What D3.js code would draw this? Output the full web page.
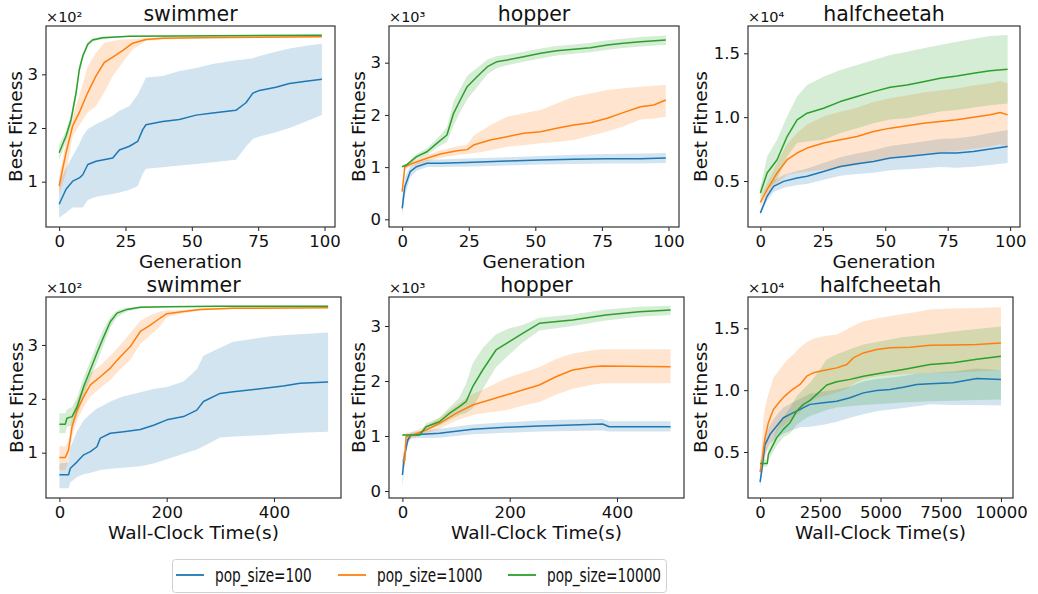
<!DOCTYPE html>
<html>
<head>
<meta charset="utf-8">
<script src="https://cdn.jsdelivr.net/npm/d3@7"></script>
<style>
  body { margin: 0; background: #fff; }
  svg { font-family: 'DejaVu Sans', sans-serif; }
</style>
</head>
<body>
<div id="chart"></div>
<script>
// rows are [x, mean, lower, upper]

// swimmer, x = generation
var swimGenBlue = [[0,58,33,98],[2.6,86,42,125],[5.1,101,52,148],[7.6,107,52,170],[8.9,113,52,185],[10.8,132,66,198],[13.9,138,72,207],[20.2,144,77,223],[22.7,159,80,232],[26.5,166,85,241],[29.6,175,92,262],[31.5,197,115,281],[32.7,206,124,294],[39,212,127,297],[45.3,216,130,306],[51.6,224,133,312],[57.9,228,136,319],[66.6,233,141,326],[70.4,247,165,328],[73,265,180,330],[75.5,270,184,334],[81.7,276,192,342],[86.8,283,200,348],[93,287,212,353],[99,291,224,357]]
var swimGenOrange = [[0,92,75,108],[2.6,154,117,176],[5.1,204,185,223],[7.6,229,205,260],[10.8,266,229,315],[13.9,297,241,340],[17,322,266,359],[20.2,332,297,362],[23.9,344,322,365],[27.7,358,346,366],[32.7,365,362,368],[39,367,365,369],[53,368,367,370],[99,370,369,371]]
var swimGenGreen = [[0,154,140,168],[2.6,185,175,195],[4.5,216,206,226],[6.4,266,256,276],[7.6,309,300,318],[8.9,334,327,340],[10.8,356,352,360],[12.6,364,361,367],[16.4,368,366,370],[26.5,371,370,372],[60,372,371,373],[99,373,372,374]]

// hopper, x = generation
var hopGenBlue = [[0,210,50,420],[1,625,450,800],[3,912,800,1010],[5.4,1008,930,1080],[9.3,1073,1000,1140],[14.3,1073,1000,1145],[26.8,1092,1010,1170],[39.4,1117,1030,1190],[52,1136,1050,1215],[64.4,1149,1060,1235],[77,1162,1070,1250],[89.5,1162,1070,1260],[99,1175,1080,1270]]
var hopGenOrange = [[0,530,480,580],[1,1008,970,1040],[4,1073,1020,1120],[9.3,1169,1110,1230],[14.3,1251,1180,1320],[20.6,1315,1230,1400],[24.4,1335,1250,1430],[26.8,1423,1264,1600],[33,1519,1320,1800],[39.4,1583,1391,1966],[45.6,1647,1420,2030],[52,1678,1456,2094],[58,1744,1480,2220],[64.4,1807,1519,2349],[70.7,1851,1600,2410],[77,1935,1680,2477],[83,2043,1780,2510],[89.5,2157,1911,2541],[94.5,2190,1930,2560],[99,2286,1966,2573]]
var hopGenGreen = [[0,1008,990,1030],[1.6,1040,1010,1070],[5.4,1200,1150,1250],[9.3,1295,1230,1360],[13,1456,1370,1540],[16.8,1615,1480,1760],[19.3,2030,1800,2260],[21.8,2286,2050,2500],[24.4,2540,2300,2750],[28.1,2732,2530,2900],[32,2924,2780,3060],[35.6,3020,2900,3130],[39.4,3052,2950,3150],[45.6,3115,3020,3210],[52,3180,3080,3270],[58,3230,3140,3320],[64.4,3257,3170,3350],[70.7,3288,3200,3380],[77,3340,3250,3430],[83,3372,3280,3460],[89.5,3403,3310,3490],[99,3435,3340,3520]]

// halfcheetah, x = generation
var cheGenBlue = [[0,2500,2300,2700],[2.7,3800,3450,4150],[5.3,4580,4130,5030],[9.3,4970,4470,5470],[14.7,5240,4690,5790],[18.7,5370,4770,5970],[25.3,5750,5100,6400],[32,6140,5420,6860],[38.7,6350,5550,7150],[45.3,6530,5650,7410],[52,6800,5850,7750],[58.7,6920,5920,7920],[65.3,7050,6000,8100],[72,7190,6090,8290],[78.7,7190,6040,8340],[85.3,7310,6110,8510],[92,7500,6250,8750],[99,7700,6400,9000]]
var cheGenOrange = [[0,3330,3030,3630],[2.7,4320,3820,4820],[6.7,5630,4830,6430],[10.7,6670,5470,7870],[14.7,7190,5630,8750],[18.7,7580,5730,9430],[25.3,7970,5890,10050],[32,8230,6030,10430],[38.7,8480,6230,10730],[45.3,8880,6580,11180],[52,9140,6790,11490],[58.7,9320,6950,11690],[65.3,9530,7130,11930],[72,9660,7230,12090],[78.7,9790,7340,12240],[85.3,10000,7530,12470],[92,10180,7700,12660],[96,10360,7880,12840],[99,10180,7700,12660]]
var cheGenGreen = [[0,4060,3620,4500],[2.7,5630,4340,6920],[6.7,6670,5110,8230],[10.7,8480,6910,10050],[14.7,9790,7970,11610],[18.7,10310,8100,12520],[25.3,10700,8230,13170],[32,11220,8750,13690],[38.7,11610,9140,14080],[45.3,12000,9520,14480],[52,12340,9810,14870],[58.7,12520,9910,15130],[65.3,12780,10170,15390],[72,13050,10450,15650],[78.7,13230,10560,15900],[85.3,13440,10750,16130],[92,13640,10930,16350],[99,13750,11070,16430]]

// swimmer, x = wall-clock seconds
var swimTimeBlue = [[0,59,34,80],[17,59,34,82],[20.5,71,45,110],[33,83,55,140],[45.3,96,60,160],[57.7,102,63,172],[70,111,66,182],[76.3,127,68,185],[94.9,136,70,195],[119.8,139,72,205],[150.8,143,75,212],[175.7,151,80,218],[200.4,161,88,222],[231.4,167,98,232],[256.2,179,106,255],[268.6,195,112,280],[299.6,210,128,295],[324.4,213,130,306],[386.4,220,133,315],[417.4,224,135,318],[448.5,229,137,320],[501,231,139,323]]
var swimTimeOrange = [[0,91,68,112],[11,91,68,112],[17,105,85,122],[23.6,148,130,168],[33,179,160,198],[45.3,204,185,225],[57.7,226,205,248],[76.3,241,220,262],[94.9,257,235,280],[113.6,278,255,300],[132.2,297,272,322],[150.8,325,302,345],[169.5,337,318,355],[188,350,335,362],[200.4,358,352,364],[231.4,362,359,365],[262.4,366,364,368],[324.4,368,367,370],[501,369,368,371]]
var swimTimeGreen = [[0,153,136,173],[11,153,136,173],[14,164,148,180],[23.6,167,150,185],[33,185,168,202],[45.3,223,205,240],[57.7,254,238,270],[70,285,268,302],[82.5,315,300,330],[94.9,343,332,352],[107.4,359,352,364],[126,366,362,369],[150.8,370,368,372],[200.4,371,370,372],[300,372,371,373],[501,372,371,373]]

// hopper, x = wall-clock seconds
var hopTimeBlue = [[0,291,60,520],[3.7,624,450,800],[10,927,850,1000],[16.1,1018,960,1070],[69,1049,970,1130],[131,1122,1030,1210],[193.2,1158,1060,1250],[255.3,1182,1080,1280],[317.4,1200,1090,1300],[373.2,1218,1100,1310],[385.6,1169,1080,1270],[500,1169,1080,1270]]
var hopTimeOrange = [[0,551,450,700],[4.4,551,450,700],[6.8,988,900,1050],[19.4,1018,960,1080],[44.2,1109,1040,1180],[69,1230,1130,1330],[100,1412,1280,1560],[131,1563,1380,1760],[162,1654,1430,1900],[193.2,1745,1470,2050],[224.2,1836,1550,2150],[255.3,1927,1620,2250],[286.3,2078,1750,2400],[317.4,2200,1860,2500],[354.6,2260,1930,2560],[373.2,2272,1958,2576],[500,2260,1958,2576]]
var hopTimeGreen = [[0,1018,1000,1040],[31.8,1018,1000,1040],[44.2,1169,1110,1230],[69,1260,1190,1330],[87.6,1412,1290,1520],[106.2,1533,1380,1700],[118.6,1624,1420,1950],[131,1896,1500,2320],[149.7,2200,1850,2600],[174.5,2564,2250,2850],[199.4,2715,2480,2960],[224.2,2867,2700,3020],[255.3,3049,2920,3150],[317.4,3109,3000,3210],[379,3200,3100,3300],[441.5,3260,3170,3350],[500,3291,3200,3370]]

// halfcheetah, x = wall-clock seconds
var cheTimeBlue = [[0,2560,2200,2900],[69,3470,3000,4000],[207,5600,4800,6300],[415,6430,5700,7200],[692,7100,6100,8000],[968,7770,6500,8600],[1245,8040,6700,8900],[1660,8440,7000,9300],[2075,8850,7050,9700],[2630,8980,7200,9900],[3183,9110,7450,10050],[3735,9380,7770,10300],[4290,9780,8050,10700],[4843,9970,8300,10900],[5395,10050,8440,11000],[5948,10240,8550,11150],[6500,10460,8700,11350],[7055,10510,8850,11400],[8000,10600,8800,11500],[9000,10950,8800,11750],[10000,10860,8750,11600]]
var cheTimeOrange = [[0,3370,3000,3700],[69,4150,3500,5500],[138,5200,4000,7700],[207,6160,4500,8600],[346,7370,5400,9660],[553,8440,6200,11000],[830,9110,6900,11700],[968,9400,7100,12070],[1107,9660,7300,12400],[1383,10110,7800,12880],[1660,10460,8200,13450],[1937,11130,8800,13900],[2213,11400,9200,14150],[2630,11590,9500,14350],[3183,11800,9800,14490],[3600,12070,10100,14900],[3873,12610,10500,15200],[4290,13010,10900,15570],[4843,13280,11100,15800],[5395,13420,11200,16000],[6225,13470,11300,16240],[7055,13630,11400,16510],[8000,13650,11400,16600],[9000,13700,11500,16650],[10000,13820,11600,16700]]
var cheTimeGreen = [[0,4070,3800,4400],[300,4070,3800,4400],[346,4820,4400,5300],[484,5350,4800,5900],[692,6160,5500,6900],[968,6830,6200,7800],[1245,7370,6500,8600],[1522,8310,7200,9500],[1800,8850,7600,10100],[2075,9170,7900,10600],[2352,9660,8100,11300],[2767,10410,8400,12470],[3183,10680,8600,12900],[3735,10870,8700,13300],[4290,11130,8800,13700],[5118,11400,8900,14000],[5948,11670,9000,14300],[7055,12070,9100,14490],[8020,12210,9150,14750],[9000,12500,9200,14950],[10000,12740,9250,15150]]

var seriesNames = ['pop_size=100', 'pop_size=1000', 'pop_size=10000']
var colors = ['#1f77b4', '#ff7f0e', '#2ca02c']
var genTicks = [0, 25, 50, 75, 100]
var timeTicks = [0, 200, 400]
var cheTimeTicks = [0, 2500, 5000, 7500, 10000]

var panels = [
  { title: 'swimmer', xlabel: 'Generation', box: [46, 335, 26, 227], xd: [-4.95, 103.95], yd: [15.6, 390],
    xt: genTicks, yt: [100, 200, 300], div: 100, dec: 0, off: '\u00d710\u00b2', ylx: 24,
    data: [swimGenBlue, swimGenOrange, swimGenGreen] },
  { title: 'hopper', xlabel: 'Generation', box: [389, 679, 26, 227], xd: [-4.95, 103.95], yd: [-147, 3703],
    xt: genTicks, yt: [0, 1000, 2000, 3000], div: 1000, dec: 0, off: '\u00d710\u00b3', ylx: 24,
    data: [hopGenBlue, hopGenOrange, hopGenGreen] },
  { title: 'halfcheetah', xlabel: 'Generation', box: [748, 1020, 26, 227], xd: [-4.95, 103.95], yd: [1398, 17138],
    xt: genTicks, yt: [5000, 10000, 15000], div: 10000, dec: 1, off: '\u00d710\u2074', ylx: 41,
    data: [cheGenBlue, cheGenOrange, cheGenGreen] },
  { title: 'swimmer', xlabel: 'Wall-Clock Time(s)', box: [46, 341, 297, 498], xd: [-25, 525], yd: [15.9, 389],
    xt: timeTicks, yt: [100, 200, 300], div: 100, dec: 0, off: '\u00d710\u00b2', ylx: 23,
    data: [swimTimeBlue, swimTimeOrange, swimTimeGreen] },
  { title: 'hopper', xlabel: 'Wall-Clock Time(s)', box: [389, 684, 297, 498], xd: [-25, 525], yd: [-127, 3527],
    xt: timeTicks, yt: [0, 1000, 2000, 3000], div: 1000, dec: 0, off: '\u00d710\u00b3', ylx: 24,
    data: [hopTimeBlue, hopTimeOrange, hopTimeGreen] },
  { title: 'halfcheetah', xlabel: 'Wall-Clock Time(s)', box: [748, 1013, 297, 498], xd: [-500, 10500], yd: [1281, 17530],
    xt: cheTimeTicks, yt: [5000, 10000, 15000], div: 10000, dec: 1, off: '\u00d710\u2074', ylx: 41,
    data: [cheTimeBlue, cheTimeOrange, cheTimeGreen] }
]

var svg = d3.select('#chart').append('svg')
  .attr('width', 1038)
  .attr('height', 594)

panels.forEach(function(p) {
  var left = p.box[0], right = p.box[1], top = p.box[2], bottom = p.box[3]
  var x = d3.scaleLinear().domain(p.xd).range([left, right])
  var y = d3.scaleLinear().domain(p.yd).range([bottom, top])
  var g = svg.append('g')

  var area = d3.area()
    .x(function(d) { return x(d[0]) })
    .y0(function(d) { return y(d[2]) })
    .y1(function(d) { return y(d[3]) })
  var line = d3.line()
    .x(function(d) { return x(d[0]) })
    .y(function(d) { return y(d[1]) })

  //bands first, then the mean lines on top
  p.data.forEach(function(rows, i) {
    g.append('path').attr('d', area(rows))
      .attr('fill', colors[i]).attr('fill-opacity', 0.2)
  })
  p.data.forEach(function(rows, i) {
    g.append('path').attr('d', line(rows))
      .attr('fill', 'none').attr('stroke', colors[i]).attr('stroke-width', 1.5)
      .attr('stroke-linejoin', 'round')
  })

  var fmt = function(v) { return (v / p.div).toFixed(p.dec) }
  var xAxis = g.append('g').attr('transform', 'translate(0,' + bottom + ')')
    .call(d3.axisBottom(x).tickValues(p.xt).tickFormat(d3.format('d')).tickSize(4).tickPadding(4))
  var yAxis = g.append('g').attr('transform', 'translate(' + left + ',0)')
    .call(d3.axisLeft(y).tickValues(p.yt).tickFormat(fmt).tickSize(4).tickPadding(4))
  ;[xAxis, yAxis].forEach(function(a) {
    a.select('.domain').remove()
    a.selectAll('.tick line').attr('stroke', '#222')
    a.selectAll('.tick text')
      .style('font-size', '16.5px').style('font-family', 'DejaVu Sans, sans-serif')
      .attr('fill', '#111')
  })

  g.append('rect')
    .attr('x', left).attr('y', top)
    .attr('width', right - left).attr('height', bottom - top)
    .attr('fill', 'none').attr('stroke', '#333').attr('stroke-width', 1.2)

  g.append('text').text(p.title)
    .attr('x', (left + right) / 2).attr('y', top - 5.5)
    .attr('text-anchor', 'middle').style('font-size', '20.5px').attr('fill', '#111')
  g.append('text').text(p.xlabel)
    .attr('x', (left + right) / 2).attr('y', bottom + 41)
    .attr('text-anchor', 'middle').style('font-size', '18.5px').attr('fill', '#111')
  g.append('text').text('Best Fitness')
    .attr('transform', 'translate(' + (left - p.ylx) + ',' + (top + bottom) / 2 + ') rotate(-90)')
    .attr('text-anchor', 'middle').style('font-size', '18.5px').attr('fill', '#111')
  g.append('text').text(p.off)
    .attr('x', left).attr('y', top - 4)
    .style('font-size', '14.5px').attr('fill', '#111')
})

//legend below the grid, text squeezed sideways like the original
var legend = svg.append('g')
legend.append('rect')
  .attr('x', 172.5).attr('y', 559.5).attr('width', 494).attr('height', 33)
  .attr('rx', 3).attr('fill', '#fff').attr('stroke', '#d0d0d0')
var legendX = [176, 338, 508]
seriesNames.forEach(function(name, i) {
  legend.append('line')
    .attr('x1', legendX[i]).attr('x2', legendX[i] + 28)
    .attr('y1', 575).attr('y2', 575)
    .attr('stroke', colors[i]).attr('stroke-width', 1.8)
  legend.append('text').text(name)
    .attr('transform', 'translate(' + (legendX[i] + 39) + ',582) scale(0.72,1)')
    .style('font-size', '19px').attr('fill', '#111')
})
</script>
</body>
</html>
